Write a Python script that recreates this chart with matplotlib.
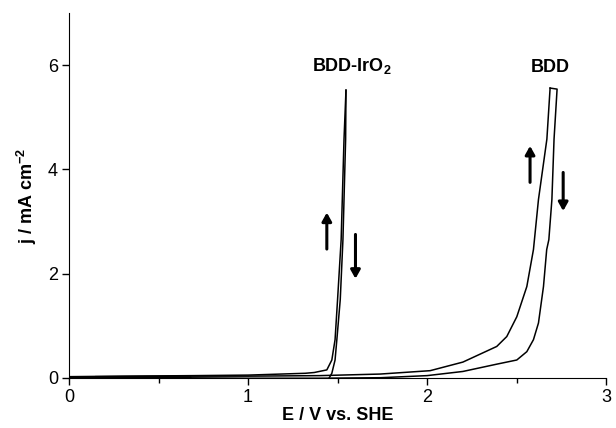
import matplotlib
matplotlib.use('Agg')
import matplotlib.pyplot as plt
from matplotlib.ticker import MultipleLocator

plt.rcParams['font.family'] = 'Liberation Sans'
plt.rcParams['mathtext.fontset'] = 'custom'
plt.rcParams['mathtext.rm'] = 'Liberation Sans'
plt.rcParams['mathtext.bf'] = 'Liberation Sans:bold'

# BDD-IrO2 loop (forward then reverse)
ir_fwd_E = [0.00, 0.30, 0.70, 1.00, 1.32, 1.37, 1.44, 1.468, 1.486, 1.50, 1.52, 1.536, 1.547]
ir_fwd_j = [0.02, 0.03, 0.04, 0.05, 0.085, 0.10, 0.15, 0.34, 0.73, 1.50, 2.65, 4.58, 5.52]
ir_rev_E = [1.547, 1.545, 1.53, 1.515, 1.496, 1.486, 1.468, 1.449, 1.20, 0.90, 0.68, 0.68, 0.30, 0.00]
ir_rev_j = [5.52, 4.58, 2.65, 1.50, 0.73, 0.34, 0.085, -0.03, -0.04, -0.04, -0.04, 0.01, 0.01, 0.00]

# BDD loop
bdd_fwd_E = [0.15, 0.60, 1.00, 1.40, 1.737, 2.017, 2.20, 2.389, 2.445, 2.501, 2.557, 2.594, 2.622, 2.669, 2.687]
bdd_fwd_j = [0.02, 0.03, 0.03, 0.04, 0.07, 0.135, 0.30, 0.60, 0.79, 1.17, 1.75, 2.46, 3.42, 4.58, 5.56]
bdd_rev_E = [2.687, 2.726, 2.709, 2.697, 2.68, 2.668, 2.65, 2.622, 2.594, 2.557, 2.501, 2.389, 2.20, 2.00, 1.74, 1.40, 1.00, 0.60, 0.15]
bdd_rev_j = [5.56, 5.54, 4.58, 3.42, 2.65, 2.46, 1.75, 1.05, 0.73, 0.50, 0.34, 0.26, 0.12, 0.04, 0.00, -0.01, -0.01, 0.00, 0.01]

fig = plt.figure(figsize=(6.16, 4.28), dpi=100)
ax = fig.add_axes([0.112, 0.1175, 0.872, 0.852])

ax.plot(ir_fwd_E, ir_fwd_j, color='black', lw=1.1)
ax.plot(ir_rev_E, ir_rev_j, color='black', lw=1.1)
ax.plot(bdd_fwd_E, bdd_fwd_j, color='black', lw=1.1)
ax.plot(bdd_rev_E, bdd_rev_j, color='black', lw=1.1)

arrow = dict(arrowstyle='-|>,head_length=0.5,head_width=0.28', color='black', lw=2.2,
             shrinkA=0, shrinkB=0)
ax.annotate('', xy=(1.44, 3.17), xytext=(1.44, 2.47), arrowprops=arrow)
ax.annotate('', xy=(1.60, 1.90), xytext=(1.60, 2.75), arrowprops=arrow)
ax.annotate('', xy=(2.575, 4.45), xytext=(2.575, 3.75), arrowprops=arrow)
ax.annotate('', xy=(2.76, 3.20), xytext=(2.76, 3.94), arrowprops=arrow)

ax.text(1.58, 5.98, r'BDD-IrO$_\mathbf{2}$', fontsize=13, fontweight='bold', ha='center', va='center')
ax.text(2.69, 5.96, 'BDD', fontsize=13, fontweight='bold', ha='center', va='center')

ax.set_xlim(0, 3)
ax.set_ylim(0, 7)
ax.xaxis.set_major_locator(MultipleLocator(1))
ax.xaxis.set_minor_locator(MultipleLocator(0.5))
ax.yaxis.set_major_locator(MultipleLocator(2))
ax.tick_params(axis='both', which='major', direction='out', length=5, width=1, labelsize=13, pad=3)
ax.tick_params(axis='x', which='minor', direction='out', length=3.5, width=1)
ax.spines['top'].set_visible(False)
ax.spines['right'].set_visible(False)

ax.set_xlabel('E / V vs. SHE', fontsize=13, fontweight='bold', labelpad=1)
ax.set_ylabel(r'j / mA cm$^\mathbf{-2}$', fontsize=13, fontweight='bold', labelpad=6)

fig.savefig('out.png', dpi=100)
